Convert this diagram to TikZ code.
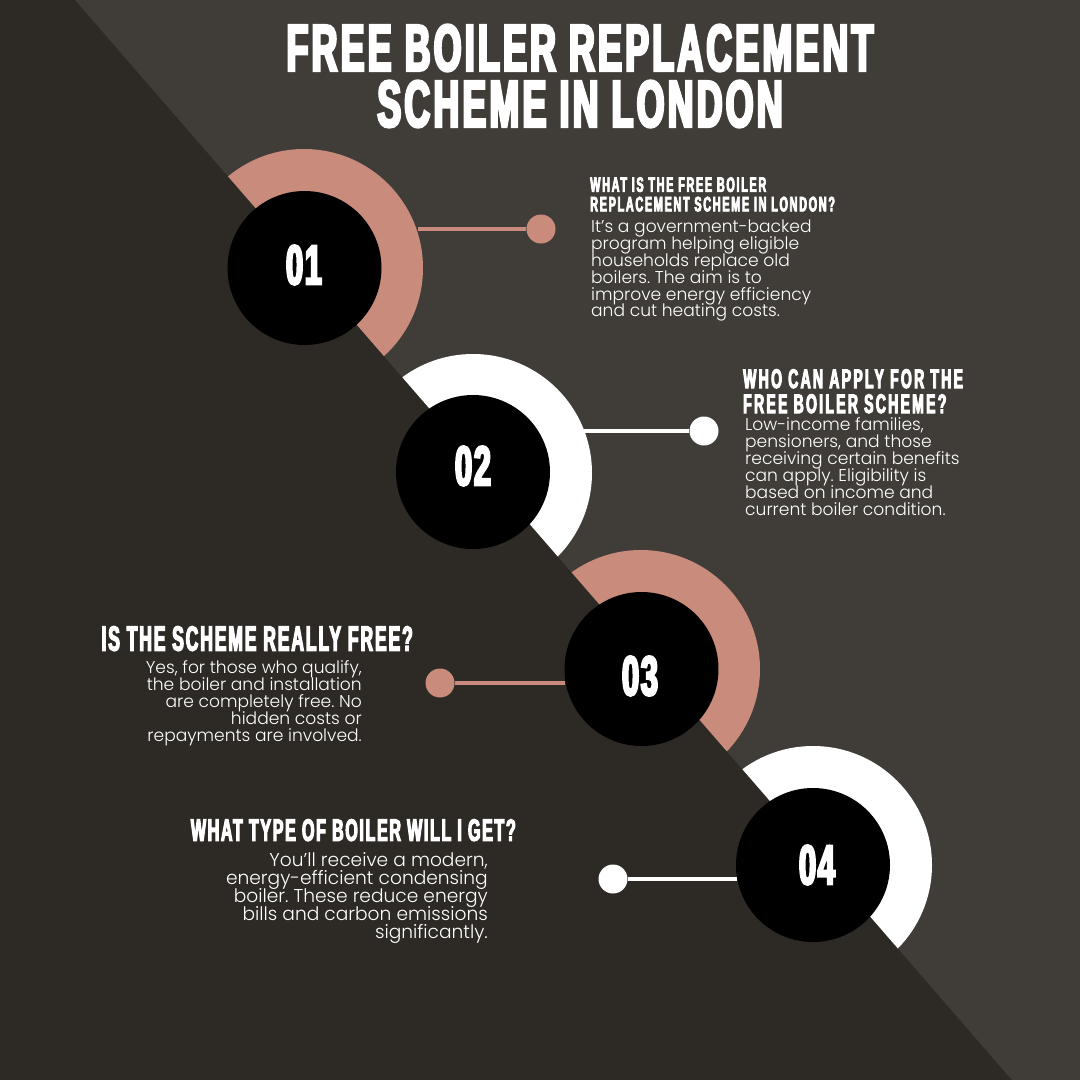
\documentclass[tikz,border=0pt]{standalone}
\usepackage{fontspec}
\setmainfont{Liberation Sans}
\newfontfamily\titlef[FakeStretch=0.54,FakeBold=4,LetterSpace=5]{Liberation Sans Bold}
\newfontfamily\hfa[FakeStretch=0.52,FakeBold=3.5,LetterSpace=7.8]{Liberation Sans Bold}
\newfontfamily\hfb[FakeStretch=0.52,FakeBold=3.5,LetterSpace=8.4]{Liberation Sans Bold}
\newfontfamily\hfc[FakeStretch=0.5,FakeBold=3.5,LetterSpace=5.4]{Liberation Sans Bold}
\newfontfamily\hfd[FakeStretch=0.52,FakeBold=3.5,LetterSpace=5.2]{Liberation Sans Bold}
\newfontfamily\digitf[FakeStretch=0.55,FakeBold=4,LetterSpace=3]{Liberation Sans Bold}
\newfontfamily\bodyf{Poppins Light}
\frenchspacing
\lineskiplimit=-100pt
\lineskip=0pt
\definecolor{bgdark}{HTML}{2D2A26}
\definecolor{bglight}{HTML}{403D39}
\definecolor{rose}{HTML}{C98B7B}
\tikzset{
  titletext/.style={inner sep=0pt,text=white,align=center,font=\titlef\fontsize{66}{56}\selectfont},
  headl/.style={inner sep=0pt,text=white,align=left,anchor=north west},
  headr/.style={inner sep=0pt,text=white,align=right,anchor=north east},
  bodyl/.style={inner sep=0pt,text=white,align=left,anchor=north west,font=\bodyf\fontsize{17.1}{#1}\selectfont},
  bodyr/.style={inner sep=0pt,text=white,align=right,anchor=north east,font=\bodyf\fontsize{17.1}{#1}\selectfont},
  bodyrbig/.style={inner sep=0pt,text=white,align=right,anchor=north east,font=\bodyf\fontsize{18.6}{#1}\selectfont},
  disc/.style={circle,fill=black,minimum size=154pt,inner sep=0pt},
  numtext/.style={inner sep=0pt,text=white,font=\digitf\fontsize{56}{56}\selectfont},
  dot/.style={circle,fill=#1,minimum size=29pt,inner sep=0pt},
  link/.style={draw=#1,line width=3.5pt}
}
\newcommand{\upperpart}{(75,0) -- (1080,0) -- (1080,1080) -- (1012,1080) -- cycle}
\newcommand{\ringat}[3]{\begin{scope}\clip \upperpart; \fill[#3] (#1,#2) circle[radius=119];\end{scope}}
\begin{document}
\begin{tikzpicture}[x=1pt,y=-1pt]
\useasboundingbox (0,0) rectangle (1080,1080);
\fill[bgdark] (0,0) rectangle (1080,1080);
\fill[bglight] \upperpart;
\ringat{304}{268}{rose}
\ringat{473}{473}{white}
\ringat{641}{669}{rose}
\ringat{813}{865}{white}

\node[titletext] (title) at (580,76) {FREE BOILER REPLACEMENT\\SCHEME IN LONDON};

\coordinate (s1) at (418,229);
\coordinate (s2) at (583,431);
\coordinate (s3) at (565,683);
\coordinate (s4) at (737,879);
\node[dot=rose]  (d1) at (541,229) {};
\node[dot=white] (d2) at (704,431) {};
\node[dot=rose]  (d3) at (440,683) {};
\node[dot=white] (d4) at (613,879) {};
\draw[link=rose]  (s1) -- (d1);
\draw[link=white] (s2) -- (d2);
\draw[link=rose]  (s3) -- (d3);
\draw[link=white] (s4) -- (d4);

\node[disc] (c1) at (304.5,268) {};
\node[disc] (c2) at (473,472) {};
\node[disc] (c3) at (641.5,669) {};
\node[disc] (c4) at (813,865) {};
\node[numtext] (n1) at (304,265) {01};
\node[numtext] (n2) at (473,466) {02};
\node[numtext] (n3) at (640,676) {03};
\node[numtext] (n4) at (817,865) {04};

\node[headl,font=\hfa\fontsize{21}{19.5}\selectfont] (h1) at (590,177) {WHAT IS THE FREE BOILER\\REPLACEMENT SCHEME IN LONDON?};
\node[bodyl=16.8] (b1) at (591,220) {It’s a government-backed\\program helping eligible\\households replace old\\boilers. The aim is to\\improve energy efficiency\\and cut heating costs.};

\node[headl,font=\hfb\fontsize{27}{25}\selectfont] (h2) at (743,369) {WHO CAN APPLY FOR THE\\FREE BOILER SCHEME?};
\node[bodyl=17] (b2) at (745,417) {Low-income families,\\pensioners, and those\\receiving certain benefits\\can apply. Eligibility is\\based on income and\\current boiler condition.};

\node[headr,font=\hfc\fontsize{35}{35}\selectfont] (h3) at (413,626) {IS THE SCHEME REALLY FREE?};
\node[bodyr=17] (b3) at (362,660.5) {Yes, for those who qualify,\\the boiler and installation\\are completely free. No\\hidden costs or\\repayments are involved.};

\node[headr,font=\hfd\fontsize{31}{31}\selectfont] (h4) at (516,819) {WHAT TYPE OF BOILER WILL I GET?};
\node[bodyrbig=18] (b4) at (488,852.5) {You’ll receive a modern,\\energy-efficient condensing\\boiler. These reduce energy\\bills and carbon emissions\\significantly.};
\end{tikzpicture}
\end{document}
